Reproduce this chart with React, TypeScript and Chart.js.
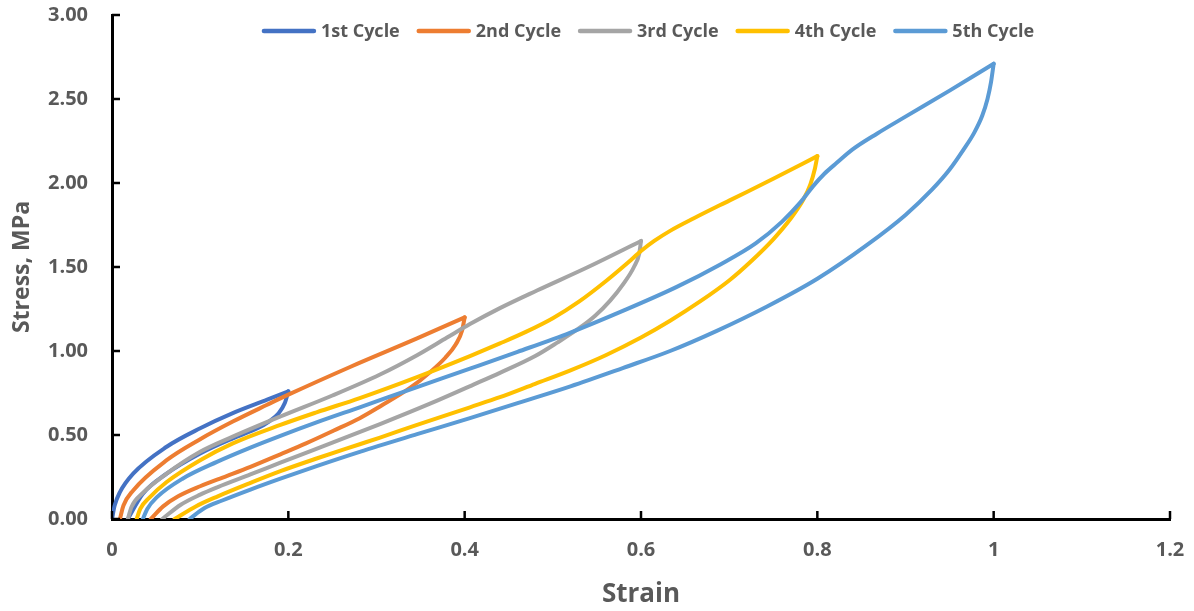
import React, { useEffect, useRef } from "react";
import { Chart, registerables } from "chart.js";

Chart.register(...registerables);

const cycleNames = ["1st Cycle", "2nd Cycle", "3rd Cycle", "4th Cycle", "5th Cycle"];
const cycleColors = ["#4472C4", "#ED7D31", "#A5A5A5", "#FFC000", "#5B9BD5"];

const xTickValues = [0, 0.2, 0.4, 0.6, 0.8, 1, 1.2];
const yTickValues = [0, 0.5, 1, 1.5, 2, 2.5, 3];

// Cycle 1
const c1LoadStrain = [0, 0.003, 0.009, 0.024, 0.062, 0.1, 0.137, 0.176, 0.2];
const c1LoadStress = [0, 0.08, 0.16, 0.27, 0.43, 0.54, 0.63, 0.71, 0.76];
const c1UnloadStrain = [0.2, 0.196, 0.189, 0.178, 0.165, 0.137, 0.1, 0.062, 0.035, 0.018];
const c1UnloadStress = [0.76, 0.69, 0.63, 0.58, 0.54, 0.48, 0.39, 0.27, 0.15, 0];

// Cycle 2
const c2LoadStrain = [0.009, 0.013, 0.024, 0.062, 0.1, 0.137, 0.176, 0.2, 0.27, 0.346, 0.4];
const c2LoadStress = [0, 0.08, 0.17, 0.35, 0.475, 0.58, 0.68, 0.74, 0.905, 1.075, 1.2];
const c2UnloadStrain = [0.4, 0.397, 0.39, 0.378, 0.362, 0.338, 0.304, 0.281, 0.251, 0.22, 0.191, 0.157, 0.13, 0.1, 0.075, 0.058, 0.044];
const c2UnloadStress = [1.2, 1.12, 1.04, 0.96, 0.88, 0.78, 0.67, 0.6, 0.525, 0.45, 0.385, 0.31, 0.255, 0.195, 0.135, 0.075, 0];

// Cycle 3
const c3LoadStrain = [0.018, 0.022, 0.035, 0.062, 0.1, 0.137, 0.191, 0.25, 0.304, 0.346, 0.38, 0.406, 0.44, 0.482, 0.54, 0.6];
const c3LoadStress = [0, 0.07, 0.155, 0.27, 0.4, 0.49, 0.61, 0.735, 0.86, 0.975, 1.08, 1.16, 1.255, 1.36, 1.5, 1.655];
const c3UnloadStrain = [0.6, 0.598, 0.592, 0.58, 0.565, 0.548, 0.531, 0.505, 0.48, 0.44, 0.41, 0.36, 0.304, 0.25, 0.191, 0.157, 0.12, 0.1, 0.078, 0.057];
const c3UnloadStress = [1.655, 1.58, 1.5, 1.4, 1.3, 1.21, 1.14, 1.05, 0.97, 0.87, 0.8, 0.685, 0.565, 0.455, 0.335, 0.265, 0.19, 0.145, 0.085, 0];

// Cycle 4
const c4LoadStrain = [0.028, 0.032, 0.043, 0.062, 0.1, 0.137, 0.191, 0.232, 0.281, 0.346, 0.406, 0.44, 0.47, 0.5, 0.53, 0.56, 0.585, 0.6, 0.615, 0.633, 0.66, 0.7, 0.75, 0.8];
const c4LoadStress = [0, 0.06, 0.13, 0.22, 0.35, 0.45, 0.56, 0.635, 0.72, 0.845, 0.97, 1.045, 1.115, 1.195, 1.295, 1.415, 1.525, 1.595, 1.655, 1.715, 1.79, 1.895, 2.025, 2.16];
const c4UnloadStrain = [0.8, 0.797, 0.792, 0.784, 0.77, 0.75, 0.724, 0.7, 0.667, 0.633, 0.6, 0.56, 0.52, 0.48, 0.44, 0.406, 0.346, 0.304, 0.281, 0.232, 0.191, 0.157, 0.12, 0.095, 0.071];
const c4UnloadStress = [2.16, 2.08, 1.99, 1.9, 1.79, 1.665, 1.53, 1.42, 1.295, 1.18, 1.08, 0.975, 0.885, 0.805, 0.725, 0.665, 0.56, 0.485, 0.445, 0.36, 0.285, 0.215, 0.135, 0.075, 0];

// Cycle 5
const c5LoadStrain = [0.035, 0.04, 0.051, 0.08, 0.119, 0.157, 0.191, 0.232, 0.281, 0.346, 0.406, 0.46, 0.52, 0.58, 0.64, 0.69, 0.73, 0.76, 0.78, 0.795, 0.808, 0.822, 0.84, 0.868, 0.9, 0.95, 1.0];
const c5LoadStress = [0, 0.06, 0.13, 0.24, 0.34, 0.425, 0.495, 0.575, 0.665, 0.785, 0.895, 0.995, 1.11, 1.24, 1.38, 1.515, 1.64, 1.77, 1.88, 1.98, 2.055, 2.12, 2.2, 2.295, 2.395, 2.55, 2.71];
const c5UnloadStrain = [1.0, 0.997, 0.993, 0.987, 0.978, 0.966, 0.95, 0.93, 0.9, 0.856, 0.8, 0.743, 0.686, 0.633, 0.58, 0.52, 0.46, 0.406, 0.346, 0.281, 0.232, 0.191, 0.157, 0.125, 0.105, 0.088];
const c5UnloadStress = [2.71, 2.6, 2.5, 2.4, 2.3, 2.2, 2.08, 1.96, 1.81, 1.63, 1.43, 1.265, 1.12, 1.0, 0.9, 0.79, 0.69, 0.6, 0.505, 0.4, 0.315, 0.24, 0.175, 0.11, 0.065, 0];

const loadStrain = [c1LoadStrain, c2LoadStrain, c3LoadStrain, c4LoadStrain, c5LoadStrain];
const loadStress = [c1LoadStress, c2LoadStress, c3LoadStress, c4LoadStress, c5LoadStress];
const unloadStrain = [c1UnloadStrain, c2UnloadStrain, c3UnloadStrain, c4UnloadStrain, c5UnloadStrain];
const unloadStress = [c1UnloadStress, c2UnloadStress, c3UnloadStress, c4UnloadStress, c5UnloadStress];

const FONT = "'Open Sans', 'Noto Sans', sans-serif";
const TEXT_COLOR = "#595959";

const toPoints = (xs: number[], ys: number[]) => xs.map((x, i) => ({ x, y: ys[i] }));

const innerTicks = {
  id: "innerTicks",
  afterDatasetsDraw(chart: any) {
    const { ctx, chartArea } = chart;
    const xs = chart.scales.x;
    const ys = chart.scales.y;
    ctx.save();
    ctx.strokeStyle = "#000";
    ctx.lineWidth = 2.5;
    xs.ticks.forEach((t: any) => {
      const px = xs.getPixelForValue(t.value);
      ctx.beginPath();
      ctx.moveTo(px, chartArea.bottom);
      ctx.lineTo(px, chartArea.bottom - 8);
      ctx.stroke();
    });
    ys.ticks.forEach((t: any) => {
      const py = ys.getPixelForValue(t.value);
      ctx.beginPath();
      ctx.moveTo(chartArea.left, py);
      ctx.lineTo(chartArea.left + 8, py);
      ctx.stroke();
    });
    ctx.restore();
  },
};

const innerLegend = {
  id: "innerLegend",
  afterDraw(chart: any) {
    const { ctx, chartArea } = chart;
    ctx.save();
    ctx.font = `bold 18px ${FONT}`;
    const lineLen = 54;
    const gap = 5;
    const spacing = 17;
    const widths = cycleNames.map((n) => ctx.measureText(n).width);
    const total = widths.reduce((s, w) => s + lineLen + gap + w, 0) + spacing * (cycleNames.length - 1);
    const center = (chartArea.left + chartArea.right) / 2 + 7;
    let x = center - total / 2;
    const y = chartArea.top + 16;
    cycleNames.forEach((name, i) => {
      ctx.strokeStyle = cycleColors[i];
      ctx.lineWidth = 4.5;
      ctx.lineCap = "round";
      ctx.beginPath();
      ctx.moveTo(x + 2, y);
      ctx.lineTo(x + lineLen - 2, y);
      ctx.stroke();
      ctx.fillStyle = TEXT_COLOR;
      ctx.textBaseline = "middle";
      ctx.textAlign = "left";
      ctx.fillText(name, x + lineLen + gap, y + 1);
      x += lineLen + gap + widths[i] + spacing;
    });
    ctx.restore();
  },
};

export default function App() {
  const canvasRef = useRef<HTMLCanvasElement | null>(null);

  useEffect(() => {
    if (!canvasRef.current) return;
    const datasets: any[] = [];
    for (let i = 0; i < 5; i++) {
      const common = {
        borderColor: cycleColors[i],
        backgroundColor: cycleColors[i],
        borderWidth: 4,
        pointRadius: 0,
        pointHoverRadius: 0,
        showLine: true,
        cubicInterpolationMode: "monotone",
        borderCapStyle: "round",
        borderJoinStyle: "round",
        fill: false,
      };
      datasets.push({ ...common, label: cycleNames[i], data: toPoints(loadStrain[i], loadStress[i]), order: 10 - i * 2 });
      datasets.push({ ...common, label: cycleNames[i] + " unloading", data: toPoints(unloadStrain[i], unloadStress[i]), order: 9 - i * 2 });
    }

    const chart = new Chart(canvasRef.current, {
      type: "scatter",
      data: { datasets },
      options: {
        animation: false,
        responsive: false,
        maintainAspectRatio: false,
        layout: { padding: { top: 15, right: 24, left: 0, bottom: 0 } },
        plugins: {
          legend: { display: false },
          tooltip: { enabled: false },
        },
        scales: {
          x: {
            type: "linear",
            min: 0,
            max: 1.2,
            afterBuildTicks: (scale: any) => {
              scale.ticks = xTickValues.map((v) => ({ value: v }));
            },
            afterFit: (scale: any) => {
              scale.height = 92;
              scale.paddingLeft = 0;
              scale.paddingRight = 0;
            },
            ticks: {
              padding: 19,
              color: TEXT_COLOR,
              font: { family: FONT, size: 20, weight: "bold" },
              callback: (v: any) => String(Number(Number(v).toFixed(1))),
            },
            grid: { display: true, drawOnChartArea: false, drawTicks: false },
            border: { display: true, color: "#000", width: 3 },
            title: {
              display: true,
              text: "Strain",
              color: TEXT_COLOR,
              font: { family: FONT, size: 26, weight: "bold" },
              padding: { top: 0, bottom: 1 },
            },
          },
          y: {
            type: "linear",
            min: 0,
            max: 3,
            afterBuildTicks: (scale: any) => {
              scale.ticks = yTickValues.map((v) => ({ value: v }));
            },
            afterFit: (scale: any) => {
              scale.width = 112;
              scale.paddingTop = 0;
              scale.paddingBottom = 0;
            },
            ticks: {
              padding: 24,
              color: TEXT_COLOR,
              font: { family: FONT, size: 20, weight: "bold" },
              callback: (v: any) => Number(v).toFixed(2),
            },
            grid: { display: true, drawOnChartArea: false, drawTicks: false },
            border: { display: true, color: "#000", width: 3 },
            title: {
              display: true,
              text: "Stress, MPa",
              color: TEXT_COLOR,
              font: { family: FONT, size: 23, weight: "bold" },
              padding: { top: 9, bottom: 0 },
            },
          },
        },
      },
      plugins: [innerTicks, innerLegend],
    });
    return () => chart.destroy();
  }, []);

  return (
    <div style={{ position: "absolute", left: 0, top: 0, width: 1194, height: 611, background: "#fff" }}>
      <canvas ref={canvasRef} width={1194} height={611} style={{ display: "block" }} />
    </div>
  );
}
